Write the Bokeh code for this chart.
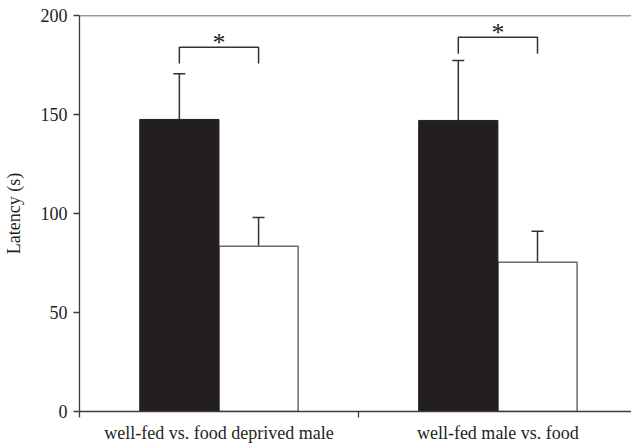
from bokeh.plotting import figure
from bokeh.models import Range1d, FixedTicker, Span, ColumnDataSource, Whisker, TeeHead
from bokeh.embed import file_html
from bokeh.resources import INLINE
from bokeh.core.properties import value

categories = ["well-fed vs. food deprived male", "well-fed male vs. food"]
group_x = [0.5, 1.5]
well_fed = [147.5, 147.0]
well_fed_err = [23.1, 30.3]
deprived = [83.5, 75.4]
deprived_err = [14.5, 15.6]
bracket_y = [184.0, 189.0]
sig_marks = ["*", "*"]
y_ticks = [0, 50, 100, 150, 200]

BAR_W = 0.284
LEG = 8.3
FONT = "Liberation Serif"
INK = "#231f20"

p = figure(width=631, height=445, output_backend="svg", toolbar_location=None,
           x_range=Range1d(0, 1.979), y_range=Range1d(0, 200),
           min_border_left=73, min_border_right=0, min_border_top=15, min_border_bottom=33)

p.xgrid.visible = False
p.ygrid.visible = False
p.outline_line_color = None
p.background_fill_color = "white"
p.border_fill_color = "white"

x_black = [g - BAR_W / 2 for g in group_x]
x_white = [g + BAR_W / 2 for g in group_x]

src_b = ColumnDataSource(dict(x=x_black, top=well_fed, up=[v + e for v, e in zip(well_fed, well_fed_err)]))
src_w = ColumnDataSource(dict(x=x_white, top=deprived, up=[v + e for v, e in zip(deprived, deprived_err)]))

p.vbar(x="x", top="top", bottom=0, width=BAR_W, source=src_w, fill_color="white",
       line_color="#6a6a6a", line_width=1.5)
p.vbar(x="x", top="top", bottom=0, width=BAR_W, source=src_b, fill_color=INK,
       line_color=INK, line_width=1)

for src in (src_b, src_w):
    w = Whisker(source=src, base="x", lower="top", upper="up", dimension="height",
                line_color="#333333", line_width=1.5, lower_head=None,
                upper_head=TeeHead(size=12, line_color="#333333", line_width=1.5))
    p.add_layout(w)

bx, by = [], []
for i, g in enumerate(group_x):
    x0, x1 = x_black[i], x_white[i]
    bx.append([x0, x0, x1, x1])
    by.append([bracket_y[i] - LEG, bracket_y[i], bracket_y[i], bracket_y[i] - LEG])
p.multi_line(xs=bx, ys=by, line_color="#333333", line_width=1.5)

p.text(x=group_x, y=[b + 2.5 for b in bracket_y], text=sig_marks, text_font=value(FONT),
       text_font_size="26px", text_align="center", text_baseline="middle", text_color=INK)

p.add_layout(Span(location=200, dimension="width", line_color="#3c3c3c", line_width=1.3))

# y axis
ya = p.yaxis[0]
ya.ticker = FixedTicker(ticks=y_ticks)
ya.axis_label = "Latency (s)"
ya.axis_label_text_font = FONT
ya.axis_label_text_font_style = "normal"
ya.axis_label_text_font_size = "18px"
ya.axis_label_text_color = INK
ya.axis_label_standoff = 14
ya.major_label_text_font = FONT
ya.major_label_text_font_size = "18px"
ya.major_label_text_color = INK
ya.major_label_standoff = 6
ya.major_tick_out = 6
ya.major_tick_in = 0
ya.minor_tick_out = 0
ya.minor_tick_in = 0
ya.axis_line_color = "#3c3c3c"
ya.axis_line_width = 1.3
ya.major_tick_line_color = "#3c3c3c"
ya.major_tick_line_width = 1.3

# x axis
xa = p.xaxis[0]
xa.ticker = FixedTicker(ticks=group_x, minor_ticks=[0, 1, 2])
xa.major_label_overrides = {group_x[i]: categories[i] for i in range(len(categories))}
xa.major_label_text_font = FONT
xa.major_label_text_font_size = "18px"
xa.major_label_text_color = INK
xa.major_label_standoff = 5
xa.major_tick_out = 0
xa.major_tick_in = 0
xa.minor_tick_out = 6
xa.minor_tick_in = 0
xa.minor_tick_line_color = "#3c3c3c"
xa.minor_tick_line_width = 1.3
xa.axis_line_color = "#3c3c3c"
xa.axis_line_width = 1.3

open("out.html", "w").write(file_html(p, INLINE))
